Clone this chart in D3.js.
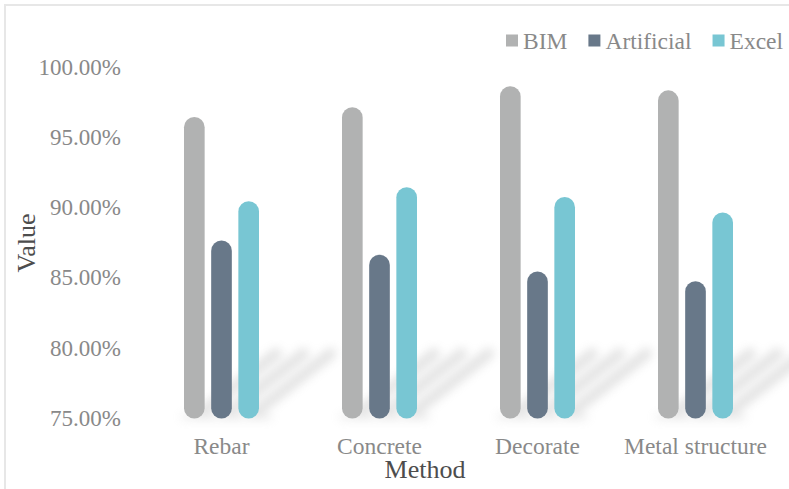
<!DOCTYPE html>
<html><head><meta charset="utf-8">
<script src="https://cdn.jsdelivr.net/npm/d3@7"></script>
<style>
html,body{margin:0;padding:0;background:#fff;overflow:hidden}
svg{display:block}
svg text{font-family:"Liberation Serif","Times New Roman",serif}
</style></head>
<body>
<script>
const categories = ["Rebar", "Concrete", "Decorate", "Metal structure"];
const seriesNames = ["BIM", "Artificial", "Excel"];
const bimValues = [0.964, 0.971, 0.986, 0.983];
const artificialValues = [0.876, 0.866, 0.854, 0.847];
const excelValues = [0.904, 0.914, 0.907, 0.896];
const yTicks = [0.75, 0.80, 0.85, 0.90, 0.95, 1.00];
const colors = ["#b1b2b2", "#687889", "#78c6d3"];

const FONT = "'Liberation Serif','Times New Roman',serif";
const W = 789, H = 489;
const svg = d3.select("body").append("svg").attr("width", W).attr("height", H);

const defs = svg.append("defs");
defs.append("filter").attr("id", "blur").attr("x", "-50%").attr("y", "-50%").attr("width", "200%").attr("height", "200%")
  .append("feGaussianBlur").attr("stdDeviation", 5);

// outer frame
svg.append("rect").attr("x", 5).attr("y", 5).attr("width", W + 20).attr("height", H + 20)
  .attr("fill", "none").attr("stroke", "#e7e7e7").attr("stroke-width", 2);

const x0 = d3.scaleBand().domain(categories).range([142.5, 774.5]);
const x1 = d3.scaleBand().domain(seriesNames).range([-37.5, 37.5]).paddingInner(0.24).paddingOuter(0);
const y = d3.scaleLinear().domain([0.75, 1.0]).range([417.5, 66.5]);

const table = categories.map((c, i) => ({
  cat: c,
  vals: [bimValues[i], artificialValues[i], excelValues[i]].map((v, j) => ({ s: seriesNames[j], v, j }))
}));

// shadows
const sh = svg.append("g").attr("filter", "url(#blur)").attr("opacity", 0.32);
table.forEach(d => {
  const cx = x0(d.cat) + x0.bandwidth() / 2;
  d.vals.forEach(b => {
    const bx = cx + x1(b.s) + x1.bandwidth() / 2;
    sh.append("line").attr("x1", bx + 8).attr("y1", y(0.75) - 6)
      .attr("x2", bx + 82).attr("y2", y(0.75) - 64)
      .attr("stroke", "#a8a8a8").attr("stroke-width", 11).attr("stroke-linecap", "round");
  });
  sh.append("rect").attr("x", cx - 40).attr("y", y(0.75) - 3).attr("width", 90).attr("height", 5)
    .attr("fill", "#bbbbbb");
});

// bars
const groups = svg.append("g").selectAll("g").data(table).join("g")
  .attr("transform", d => `translate(${x0(d.cat) + x0.bandwidth() / 2},0)`);
groups.selectAll("rect").data(d => d.vals).join("rect")
  .attr("x", b => x1(b.s))
  .attr("width", x1.bandwidth())
  .attr("y", b => y(b.v))
  .attr("height", b => y(0.75) - y(b.v) + 1)
  .attr("rx", x1.bandwidth() / 2)
  .attr("fill", b => colors[b.j]);

// y axis labels
const yAxis = d3.axisLeft(y).tickValues(yTicks).tickFormat(d3.format(".2%")).tickSize(0).tickPadding(0);
const ya = svg.append("g").attr("transform", "translate(121,0)").call(yAxis).attr("font-family", FONT);
ya.select(".domain").remove();
ya.selectAll("text").attr("fill", "#898989").attr("font-size", 23).attr("dy", "0.34em");

// x axis labels
const xAxis = d3.axisBottom(x0).tickSize(0).tickPadding(0);
const xa = svg.append("g").attr("transform", "translate(0,454)").call(xAxis).attr("font-family", FONT);
xa.select(".domain").remove();
xa.selectAll("text").attr("fill", "#898989").attr("font-size", 23.5).attr("dy", 0);

// axis titles
svg.append("text").attr("x", 425).attr("y", 478).attr("text-anchor", "middle")
  .attr("font-size", 26).attr("fill", "#4d4d4d").text("Method");
svg.append("text").attr("transform", "translate(35,243) rotate(-90)").attr("text-anchor", "middle")
  .attr("font-size", 26).attr("fill", "#4d4d4d").text("Value");

// legend
const lg = svg.append("g").attr("font-family", FONT);
let lx = 506;
seriesNames.forEach((s, i) => {
  lg.append("rect").attr("x", lx).attr("y", 34.5).attr("width", 12).attr("height", 12).attr("fill", colors[i]);
  const t = lg.append("text").attr("x", lx + 17).attr("y", 48.5).attr("font-size", 23.5)
    .attr("fill", "#898989").text(s);
  lx += 17 + t.node().getComputedTextLength() + 21;
});
</script>
</body></html>
